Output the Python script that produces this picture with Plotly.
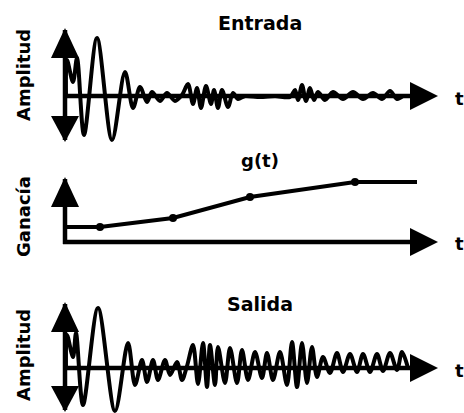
import plotly.graph_objects as go

# ---- data -------------------------------------------------------------
# Input seismic trace ("Entrada"): time (ms) and amplitude
entrada_t = [2, 4, 16, 24, 38, 64, 94, 120, 136, 150, 164, 174, 190, 204, 220,
             234, 246, 256, 264, 272, 282, 292, 298, 306, 314, 326, 336, 346,
             360, 390, 420, 450, 460, 466, 474, 482, 490, 498, 506, 520, 536,
             556, 576, 596, 616, 634, 650, 664, 676]
entrada_a = [0.00, 0.72, 0.28, 0.76, -0.78, 1.16, -0.88, 0.48, -0.24, 0.18,
             -0.12, 0.08, -0.10, 0.06, -0.10, 0.02, 0.24, -0.16, 0.16, -0.24,
             0.20, -0.16, 0.12, -0.24, 0.12, -0.22, 0.06, -0.06, 0.00, -0.02,
             0.00, -0.02, 0.12, -0.08, 0.22, -0.10, 0.16, -0.08, 0.08, -0.08,
             0.08, -0.06, 0.08, -0.06, 0.06, -0.06, 0.10, -0.06, 0.00]

# Gain function g(t)
ganancia_t = [4, 70, 216, 370, 580, 704]
ganancia_g = [0.30, 0.30, 0.48, 0.90, 1.20, 1.20]

# Output trace after gain ("Salida")
salida_t = [2, 4, 16, 22, 36, 66, 100, 126, 140, 154, 164, 176, 186, 200, 210,
            224, 234, 244, 256, 266, 276, 284, 290, 300, 306, 320, 330, 344,
            354, 366, 380, 394, 404, 416, 430, 444, 454, 464, 474, 484, 494,
            504, 516, 530, 544, 556, 570, 584, 596, 610, 624, 636, 650, 664,
            674, 686]
salida_a = [0.00, 0.66, 0.22, 0.70, -0.74, 1.20, -0.86, 0.50, -0.34, 0.16,
            -0.28, 0.16, -0.24, 0.16, -0.14, 0.12, -0.24, 0.04, 0.46, -0.32,
            0.50, -0.38, 0.46, -0.34, 0.42, -0.30, 0.40, -0.30, 0.36, -0.24,
            0.32, -0.20, 0.30, -0.24, 0.32, -0.34, 0.52, -0.38, 0.50, -0.30,
            0.42, -0.18, 0.22, -0.10, 0.30, -0.08, 0.28, -0.08, 0.28, -0.08,
            0.28, -0.06, 0.30, -0.04, 0.32, 0.00]

titles = ["Entrada", "g(t)", "Salida"]
y_labels = ["Amplitud", "Ganacía", "Amplitud"]
x_label = "t"

# ---- geometry ---------------------------------------------------------
W, H = 464, 413
MS_PER_PX = 2.0          # time scale (ms per pixel)
UNIT_PX = 50.0           # amplitude scale (pixels per unit)
ORIGIN_PX = 65           # pixel column of t = 0
X_RANGE = [-ORIGIN_PX * MS_PER_PX, (W - ORIGIN_PX) * MS_PER_PX]

# each panel: pixel band (top, bottom), zero line, arrow tips
panels = [
    dict(top=0, bottom=145, zero=96, up=28, down=142, htip=438, title_y=23, tlab_y=98, ylab_y=75),
    dict(top=145, bottom=285, zero=242, up=177, down=None, htip=438, title_y=160, tlab_y=243, ylab_y=217),
    dict(top=285, bottom=413, zero=368, up=302, down=412, htip=438, title_y=304, tlab_y=370, ylab_y=355),
]

BLACK = "#000000"
FONT = dict(family="DejaVu Sans", size=18, color=BLACK)
AXIS_W = 4.5
HEAD_LEN, HEAD_HALF = 28, 14


def t_of(px):
    return (px - ORIGIN_PX) * MS_PER_PX


def a_of(panel, py):
    return (panel["zero"] - py) / UNIT_PX


fig = go.Figure()
layout = dict(
    width=W, height=H, margin=dict(l=0, r=0, t=0, b=0),
    paper_bgcolor="white", plot_bgcolor="white", showlegend=False,
    xaxis=dict(range=X_RANGE, domain=[0, 1], visible=False, fixedrange=True),
)

shapes = []
annotations = []
series = [(entrada_t, entrada_a), None, (salida_t, salida_a)]

for i, p in enumerate(panels):
    yname = "y" if i == 0 else f"y{i + 1}"
    ykey = "yaxis" if i == 0 else f"yaxis{i + 1}"
    layout[ykey] = dict(
        range=[a_of(p, p["bottom"]), a_of(p, p["top"])],
        domain=[1 - p["bottom"] / H, 1 - p["top"] / H],
        visible=False, anchor="x", fixedrange=True,
    )

    # traces
    if series[i] is not None:
        t, a = series[i]
        fig.add_trace(go.Scatter(
            x=t, y=a, xaxis="x", yaxis=yname, mode="lines",
            line=dict(color=BLACK, width=4, shape="spline", smoothing=0.9),
            hoverinfo="skip"))
    else:
        fig.add_trace(go.Scatter(
            x=ganancia_t, y=ganancia_g, xaxis="x", yaxis=yname, mode="lines",
            line=dict(color=BLACK, width=4), hoverinfo="skip"))
        fig.add_trace(go.Scatter(
            x=ganancia_t[1:-1], y=ganancia_g[1:-1], xaxis="x", yaxis=yname,
            mode="markers", marker=dict(color=BLACK, size=8), hoverinfo="skip"))

    # axes drawn as thick arrows
    yref = yname
    x_tip = t_of(p["htip"])
    shapes.append(dict(type="line", xref="x", yref=yref,
                       x0=t_of(ORIGIN_PX - 2), x1=t_of(p["htip"] - HEAD_LEN + 2),
                       y0=0, y1=0, line=dict(color=BLACK, width=AXIS_W)))
    shapes.append(dict(
        type="path", xref="x", yref=yref, fillcolor=BLACK, line=dict(width=0),
        path=(f"M {x_tip},0 L {t_of(p['htip'] - HEAD_LEN)},{HEAD_HALF / UNIT_PX} "
              f"L {t_of(p['htip'] - HEAD_LEN)},{-HEAD_HALF / UNIT_PX} Z")))

    y_top = a_of(p, p["up"])
    y_low = a_of(p, p["down"]) if p["down"] is not None else 0
    shapes.append(dict(type="line", xref="x", yref=yref, x0=0, x1=0,
                       y0=y_low + (2 / UNIT_PX if p["down"] is not None else -2 / UNIT_PX),
                       y1=y_top - 2 / UNIT_PX,
                       line=dict(color=BLACK, width=AXIS_W)))
    base = a_of(p, p["up"] + HEAD_LEN + 2)
    shapes.append(dict(
        type="path", xref="x", yref=yref, fillcolor=BLACK, line=dict(width=0),
        path=(f"M 0,{y_top} L {-HEAD_HALF * MS_PER_PX},{base} "
              f"L {HEAD_HALF * MS_PER_PX},{base} Z")))
    if p["down"] is not None:
        base_d = a_of(p, p["down"] - 26)
        shapes.append(dict(
            type="path", xref="x", yref=yref, fillcolor=BLACK, line=dict(width=0),
            path=(f"M 0,{y_low} L {-HEAD_HALF * MS_PER_PX},{base_d} "
                  f"L {HEAD_HALF * MS_PER_PX},{base_d} Z")))

    # texts
    annotations.append(dict(text=f"<b>{titles[i]}</b>", xref="paper", yref="paper",
                            x=260 / W, y=1 - p["title_y"] / H, showarrow=False,
                            xanchor="center", yanchor="middle",
                            font=dict(FONT, size=19 if i != 1 else 18)))
    annotations.append(dict(text=f"<b>{x_label}</b>", xref="paper", yref="paper",
                            x=459 / W, y=1 - p["tlab_y"] / H, showarrow=False,
                            xanchor="center", yanchor="middle", font=FONT))
    annotations.append(dict(text=f"<b>{y_labels[i]}</b>", xref="paper", yref="paper",
                            x=23 / W, y=1 - p["ylab_y"] / H, showarrow=False,
                            xanchor="center", yanchor="middle", textangle=-90,
                            font=FONT))

layout["shapes"] = shapes
layout["annotations"] = annotations
fig.update_layout(**layout)
fig.write_html("out.html", config=dict(displayModeBar=False))
